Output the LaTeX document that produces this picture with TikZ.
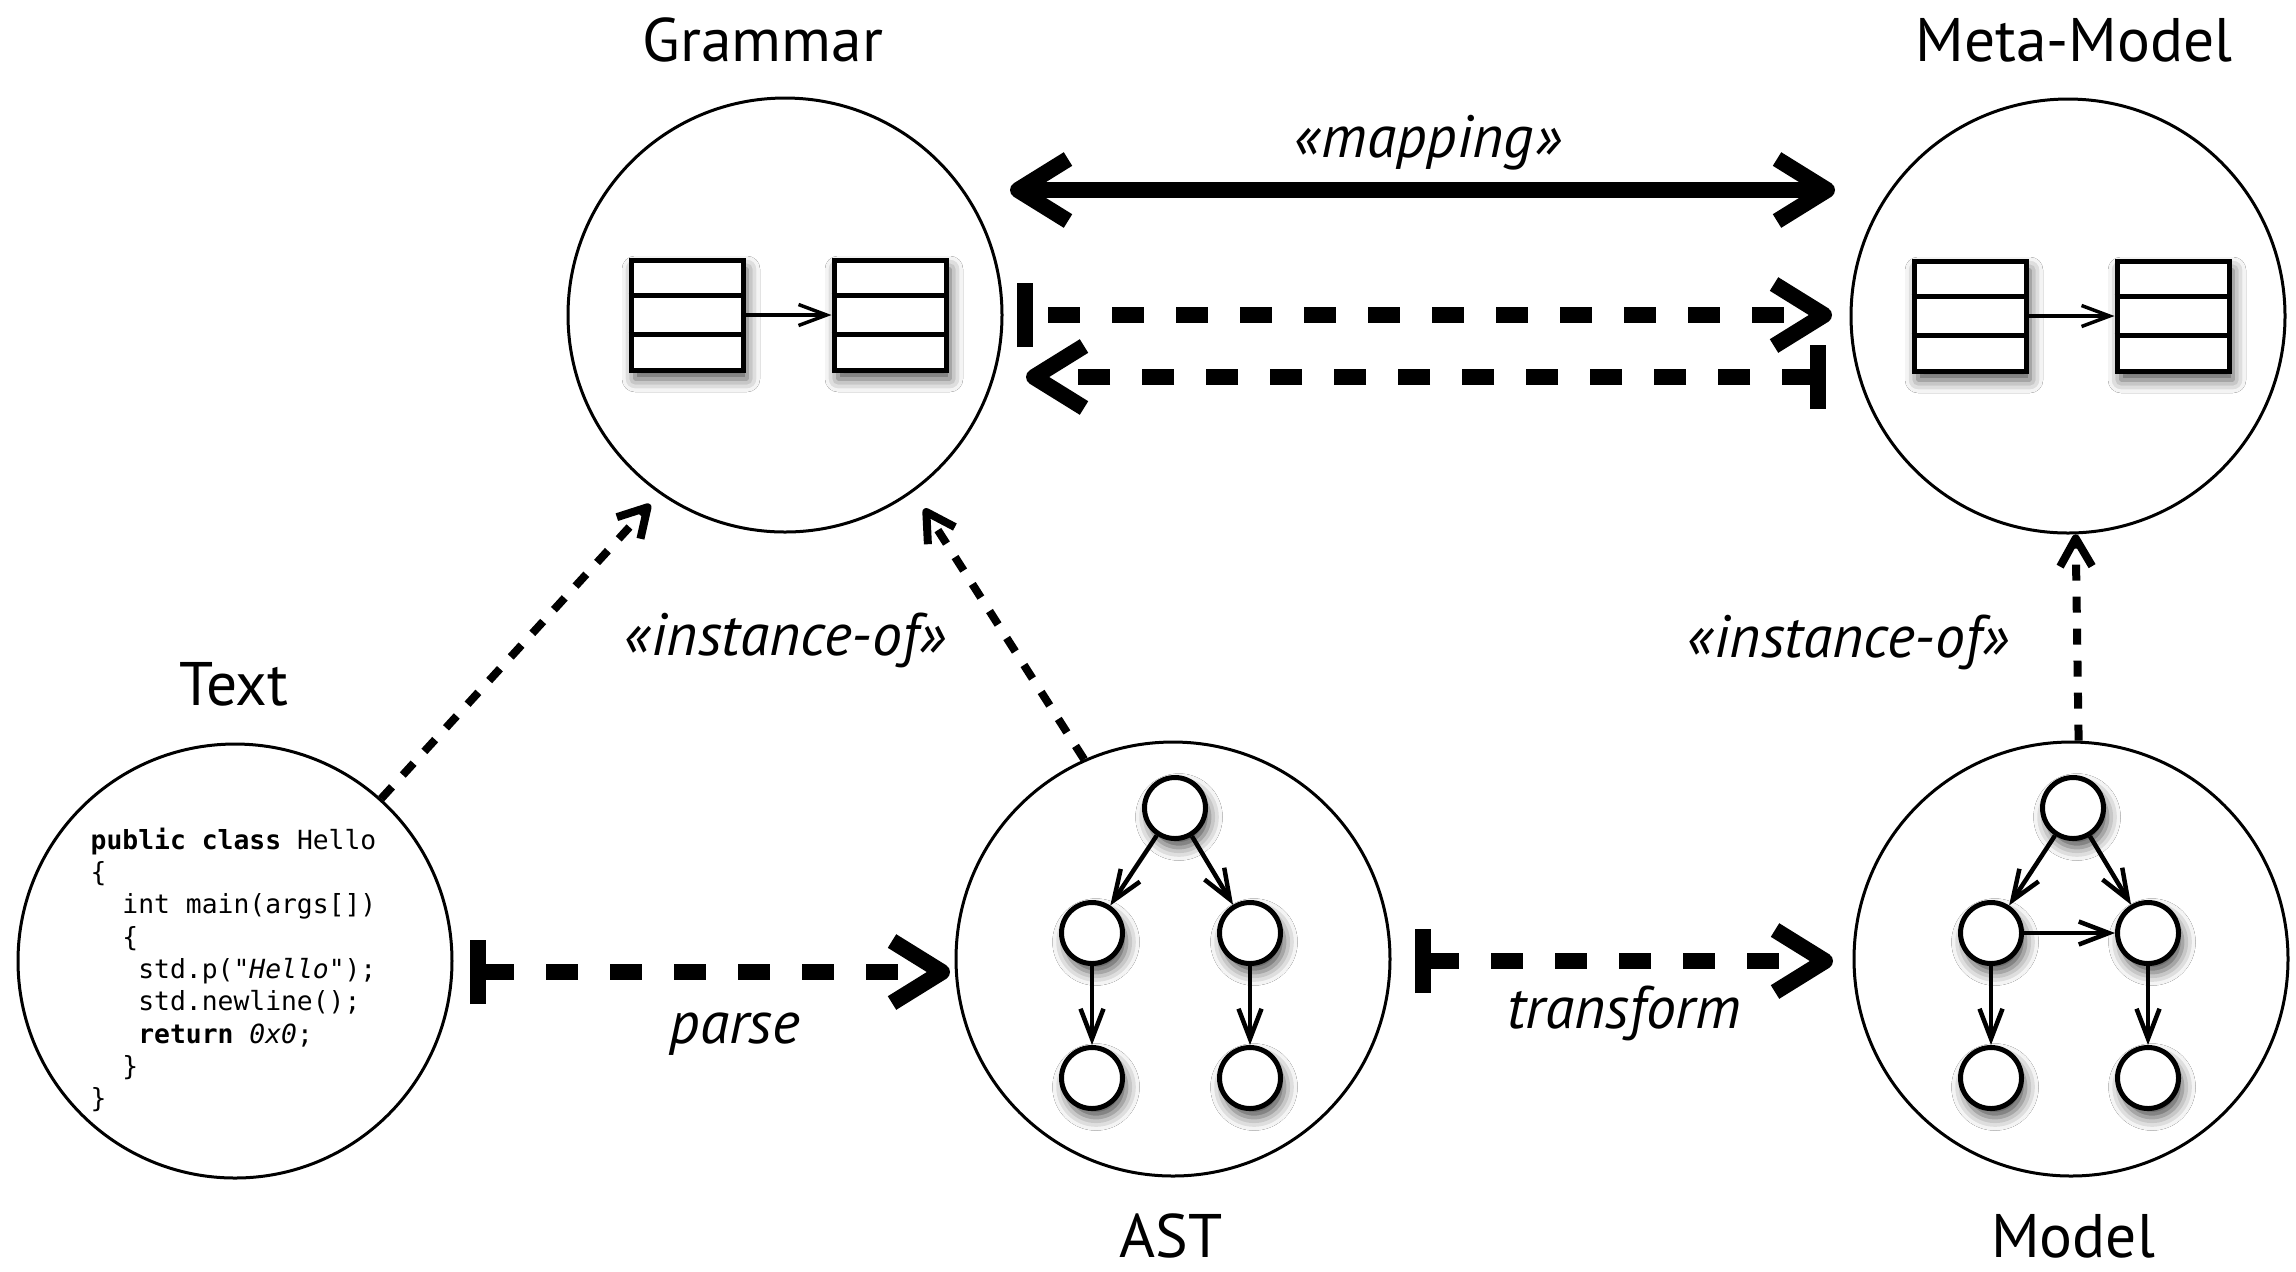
\documentclass[tikz,border=0pt]{standalone}
\usepackage{fontspec}
\setmainfont{PT Sans}
\setmonofont{DejaVu Sans Mono}
\usetikzlibrary{arrows.meta,calc,shadows.blur}
\tikzset{
  BT/.tip={Straight Barb[length=5mm,width=6.2mm,line join=round]},
  ST/.tip={Straight Barb[length=2.8mm,width=3.2mm,line join=round]},
  GT/.tip={Straight Barb[length=3mm,width=2.3mm]},
  CT/.tip={Straight Barb[length=2.8mm,width=2.1mm]},
  BB/.tip={Bar[width=6.4mm]},
  sh/.style={blur shadow={shadow xshift=0.4mm, shadow yshift=-0.9mm, shadow blur radius=1.3mm, shadow opacity=70}},
  big/.style={circle, draw, line width=0.3mm, minimum size=43.4mm, inner sep=0pt},
  cls/.style={rectangle, draw, line width=0.5mm, minimum width=11.2mm, minimum height=11mm, inner sep=0pt, fill=white, sh},
  gn/.style={circle, draw, line width=0.5mm, minimum size=6.1mm, inner sep=0pt, fill=white, sh},
  garrow/.style={line width=0.45mm, -GT},
  carrow/.style={line width=0.35mm, -CT},
  bigline/.style={line width=1.6mm},
  bigdash/.style={line width=1.6mm, dash pattern=on 3.2mm off 3.2mm},
  smalldash/.style={line width=0.8mm, dash pattern=on 1.6mm off 1.6mm, -ST},
  title/.style={font=\fontsize{17.5}{20}\selectfont, anchor=base, inner sep=0pt},
  lab/.style={font=\fontsize{17}{20}\selectfont\itshape, anchor=base, inner sep=0pt},
  code/.style={font=\fontsize{7.5}{9.2}\selectfont\ttfamily, align=left, inner sep=0pt, anchor=north west},
}
\begin{document}
\begin{tikzpicture}[x=0.1mm,y=-0.1mm]
\fill[white] (0,0) rectangle (2296,1271);
\useasboundingbox (0,0) rectangle (2296,1271);

% big circles
\node[big] (grammar) at (785,315) {};
\node[big] (meta) at (2068,316) {};
\node[big] (text) at (235,961) {};
\node[big] (ast) at (1173,959) {};
\node[big] (model) at (2071,959) {};

% titles
\node[title] (tgrammar) at (763,61) {Grammar};
\node[title] (tmeta) at (2074,61) {Meta-Model};
\node[title] (ttext) at (234,705) {Text};
\node[title] (tast) at (1171,1257) {AST};
\node[title] (tmodel) at (2073,1257) {Model};

% class boxes
\node[cls] (g1) at ($(grammar.center)+(-98,0)$) {};
\node[cls] (g2) at ($(grammar.center)+(105,0)$) {};
\node[cls] (m1) at ($(meta.center)+(-98,0)$) {};
\node[cls] (m2) at ($(meta.center)+(105,0)$) {};
\foreach \b in {g1,g2,m1,m2}{
  \draw[line width=0.5mm] ($(\b.north west)!1/3!(\b.south west)$) -- ($(\b.north east)!1/3!(\b.south east)$);
  \draw[line width=0.5mm] ($(\b.north west)!2/3!(\b.south west)$) -- ($(\b.north east)!2/3!(\b.south east)$);
}
\draw[carrow] (g1) -- (g2);
\draw[carrow] (m1) -- (m2);

% code
\node[code] (src) at (90,827) {\textbf{public class} Hello\\
\{\\
\ \ int main(args[])\\
\ \ \{\\
\ \ \ std.p("\textit{Hello}");\\
\ \ \ std.newline();\\
\ \ \ \textbf{return} \textit{0x0};\\
\ \ \}\\
\}};

% AST graph
\node[gn] (a0) at ($(ast.center)+(2,-151)$) {};
\node[gn] (a1) at ($(ast.center)+(-81,-26)$) {};
\node[gn] (a2) at ($(ast.center)+(77,-26)$) {};
\node[gn] (a3) at ($(ast.center)+(-81,119)$) {};
\node[gn] (a4) at ($(ast.center)+(77,119)$) {};
\draw[garrow] (a0) -- (a1);
\draw[garrow] (a0) -- (a2);
\draw[garrow] (a1) -- (a3);
\draw[garrow] (a2) -- (a4);

% Model graph
\node[gn] (b0) at ($(model.center)+(2,-151)$) {};
\node[gn] (b1) at ($(model.center)+(-80,-26)$) {};
\node[gn] (b2) at ($(model.center)+(77,-26)$) {};
\node[gn] (b3) at ($(model.center)+(-80,119)$) {};
\node[gn] (b4) at ($(model.center)+(77,119)$) {};
\draw[garrow] (b0) -- (b1);
\draw[garrow] (b0) -- (b2);
\draw[garrow] (b1) -- (b2);
\draw[garrow] (b1) -- (b3);
\draw[garrow] (b2) -- (b4);

% mapping arrows
\draw[bigline, BT-BT] ($(grammar.center)+(225,-125)$) -- ($(meta.center)+(-233,-126)$);
\draw[bigdash, dash phase=4.5mm, BB-BT] ($(grammar.center)+(232,0)$) -- ($(meta.center)+(-236,-1)$);
\draw[bigdash, BB-BT] ($(meta.center)+(-242,61)$) -- ($(grammar.center)+(241,62)$);

% parse / transform
\draw[bigdash, BB-BT] ($(text.center)+(235,11)$) -- ($(ast.center)+(-223,13)$);
\draw[bigdash, BB-BT] ($(ast.center)+(242,2)$) -- ($(model.center)+(-238,2)$);

% instance-of
\draw[smalldash, shorten >=1.4mm] (text.48) -- (grammar.235.5);
\draw[smalldash, shorten >=2mm] (ast.114) -- (grammar.-54);
\draw[smalldash] (model.88) -- (meta.-88);

% labels
\node[lab] (lmap) at (1428,157) {«mapping»};
\node[lab] (linst1) at (785,655) {«instance-of»};
\node[lab] (linst2) at (1848,657) {«instance-of»};
\node[lab] (lparse) at (735,1043) {parse};
\node[lab] (ltrans) at (1624,1028) {transform};
\end{tikzpicture}
\end{document}
